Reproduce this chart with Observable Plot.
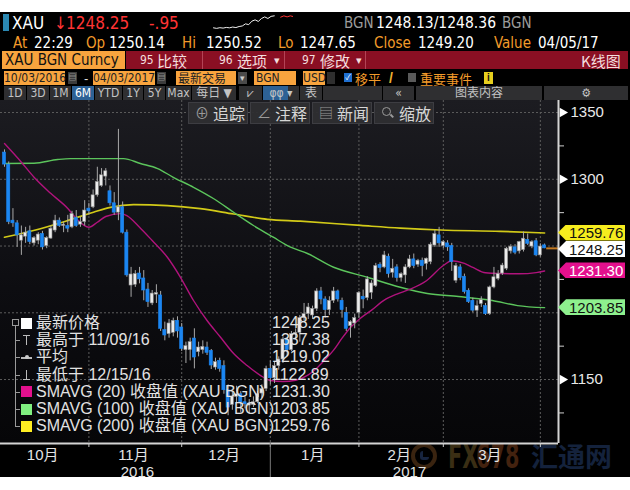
<!DOCTYPE html>
<html>
<head>
<meta charset="utf-8">
<script src="https://cdn.jsdelivr.net/npm/d3@7"></script>
<script src="https://cdn.jsdelivr.net/npm/@observablehq/plot@0.6"></script>
<style>
html,body{margin:0;padding:0;background:#fff;}
#root{position:relative;width:630px;height:490px;overflow:hidden;background:#fff;font-family:"Liberation Sans","Noto Sans CJK SC",sans-serif;}
.a{position:absolute;white-space:nowrap;box-sizing:border-box;}
.cd{font-family:"DejaVu Sans Condensed","DejaVu Sans","Noto Sans CJK SC",sans-serif;font-stretch:condensed;}
.cj{font-family:"Noto Sans CJK SC",sans-serif;}
</style>
</head>
<body>
<div id="root"></div>
<script>
// ---------------- DATA ----------------
// daily bars (weekdays 2016-10-03 .. 2017-04-03, excl. 12/26, 01/02)
const barOpen = [1320,1311,1269,1267,1254,1257,1261,1252,1254,1259,
1250,1255.6,1261.6,1269,1265,1265,1264,1271,1266,1268,
1278,1279,1288,1295,1302,1291,1282,1275,1279,1260,
1220.4,1221,1229.4,1225.7,1217.4,1207,1213.6,1213,1187,1184,
1185,1194,1189,1172,1172,1180.7,1170.5,1172,1174,1171.5,
1159,1164,1160,1142,1131,1137,1139,1133,1130.5,1131,
1133,1139.5,1143,1158,1151,1160,1165,1180,1172,1184,
1185,1196,1199,1198,1203,1216,1210,1202,1209,1216,
1209,1200,1190,1192,1200,1212,1211,1215,1220,1236,
1234,1242,1230,1234,1226,1228,1234,1240,1236,1239,
1236.6,1238,1250.4,1258,1250,1252,1250,1224,1234,1227,
1216.5,1209,1201.6,1206.6,1205,1199,1219,1225.4,1229.4,1233,
1246,1249,1246,1247,1254.6,1249.6,1253.6,1243,1250.5];
const barHigh = [1322,1313,1278,1269,1265,1264,1265,1257,1260,1261,
1257,1265,1273,1271,1268,1273,1276,1276.6,1271.6,1284,
1282,1292,1309,1308,1308,1295,1290,1337.38,1283,1262,
1234,1231.6,1234,1231.6,1222,1216.7,1221,1216,1193,1195,
1196,1197,1192,1178,1181,1188,1178,1179,1178,1172.5,
1166,1166,1164,1146,1141,1145,1141,1137,1135,1137,
1141,1146,1160,1164,1163,1167,1182,1181,1186,1188,
1198,1207,1207,1205,1218,1219,1212,1212,1219,1217,
1211,1204,1194,1199,1216,1217,1227,1224,1237,1237.5,
1246,1244,1240,1236,1230,1236,1243,1244,1240,1241,
1241,1252.5,1261.6,1264,1254,1254,1252,1237,1236,1229,
1218,1211,1209,1212,1207,1220,1234,1231.6,1237,1249,
1251,1251,1253.5,1260.5,1259,1254,1255.6,1251.7,1251.5];
const barLow = [1309,1266,1264,1249,1243,1252,1251,1250,1251,1247,
1248,1255,1260,1264,1260,1260,1263,1264,1264,1265,
1273,1278,1286.6,1294,1295,1280,1273,1269,1259,1226.6,
1211.6,1219,1221.7,1209,1204,1205.4,1207,1186,1179,1181,
1182,1181,1171,1162,1164,1158,1167,1169,1168,1157.5,
1157,1155.5,1139,1122.89,1127,1132,1125,1128,1124,1129,
1132,1136,1141,1146,1147,1157,1162,1167,1171,1180,
1178,1194,1195,1195,1201,1206,1196,1198,1207,1208,
1196,1186,1181,1188,1196,1203,1209,1210,1219,1230,
1233,1226,1226,1223,1223,1222,1233,1233,1234,1227,
1232,1236,1249,1249,1248,1246,1231,1222,1224,1214,
1207,1200,1196.5,1204,1198,1198,1218,1224,1228,1231.6,
1244,1243.5,1244,1245.5,1250.4,1248,1242,1241.7,1248];
const barClose = [1311,1268,1267,1258,1258,1260,1253,1256,1258.6,1249,
1256,1263,1269,1265,1266,1263,1274,1265,1268,1276.6,
1276,1288,1298,1303,1306,1282,1275,1279,1260,1228,
1228.7,1229,1225,1216.7,1208,1214.4,1214.8,1188,1183,1192,
1194,1186,1173,1175,1178,1166.5,1174,1174.5,1170,1160.5,
1163,1158,1142,1129,1137,1139,1133,1131.5,1132,1133,
1139,1143,1158,1151,1160,1165,1180,1172,1184,1185,
1196,1199,1204,1203,1216,1210,1202,1209,1216,1210,
1202,1188,1193,1196,1215,1210,1225,1222,1235,1233.5,
1243,1229,1233,1226,1229,1234,1240,1235,1239,1235,
1240.5,1251,1259,1252,1253,1249,1238,1235,1226,1215.5,
1208,1201.6,1205,1209.5,1199,1219,1226.6,1229,1235.4,1248,
1249.5,1245,1253,1255.5,1251.7,1253,1243,1249.6,1248.25];

// moving averages (bar index, value)
const ma20Idx = [0,4,7,11,15,17,20,22,24,27.5,29,32,35,38.6,41.7,44.8,48,51.2,54.3,57.5,60.7,63,66,69,72,74,76,78,80,82,84,87,90,93,96,100,104,106,109,111,114,118,122,126,128];
const ma20Val = [1326.8,1312.8,1301.5,1289.3,1278.1,1270.6,1264.1,1267.8,1272.1,1274.3,1272.8,1264.1,1254.1,1241.6,1226.6,1209.2,1194.2,1181.7,1169.5,1160.5,1153,1149.3,1148.5,1149.5,1153.5,1158.5,1165,1172,1181,1189,1195,1202,1209.5,1214,1217.5,1224,1235.4,1239,1237,1234,1230,1229.4,1229.2,1230.1,1231.3];
const ma100Idx = [0,7,12.6,15.6,28.2,32.2,36.3,40,44.8,49.5,54.3,59,63.7,67.8,71.8,78,86,93.8,100.2,107.6,115.6,121.6,128];
const ma100Val = [1311.8,1312,1314.8,1315.5,1315.5,1311.8,1308,1301.5,1294,1285.6,1275.3,1265.4,1256.6,1249.1,1244.4,1234.1,1226.6,1219.1,1214.4,1212.2,1209.2,1205.4,1203.85];
const ma200Idx = [0,6.9,14.9,21.1,25.1,30.6,38.6,46.4,54.3,62.3,70.1,84.4,93.8,103.3,117.5,128];
const ma200Val = [1256.6,1261.6,1269,1275.3,1279,1281,1280.3,1278,1274,1270,1268.6,1265.4,1263.4,1262,1261,1259.76];

const monthLabels = ["10月","11月","12月","1月","2月","3月"];
const monthFirst = [0,21,43,64,85,105];
const monthLast = [20,42,63,84,104,127];
const yearLabels = ["2016","2017"];
const yearFirst = [0,64];
const yearLast = [63,128];

const majorTicks = [1150,1300,1350];
const minorTicks = [1125,1175,1225,1275,1325];
const gridLevels = [1150,1200,1250,1300,1350];
const lastPrice = 1248.25;

const tagValues = [1259.76,1248.25,1231.30,1203.85];
const tagLabels = ["1259.76","1248.25","1231.30","1203.85"];
const tagFill = ["#f6ec1e","#ffffff","#e3108d","#8ef08e"];
const tagInk = ["#111","#111","#fff","#111"];

const legendLabels = ["最新价格","最高于 11/09/16","平均","最低于 12/15/16","SMAVG (20) 收盘值 (XAU BGN)","SMAVG (100) 收盘值 (XAU BGN)","SMAVG (200) 收盘值 (XAU BGN)"];
const legendValues = ["1248.25","1337.38","1219.02","1122.89","1231.30","1203.85","1259.76"];
const legendIcons = ["sq","hi","avg","lo","sq","sq","sq"];
const legendColors = ["#ffffff",null,null,null,"#e3108d","#80f080","#ffee22"];

const sparkWhite = [2,1.6,2.1,1.8,2.3,2,2.6,2.2,3,3.4,5,4.4,7,8,6.8,9,10.2,9,10.6,11];
const sparkRed = [10,11,10.2,11,10.4];

// ---------------- HELPERS ----------------
const root = document.getElementById("root");
function box(x,y,w,h,bg,extra){const d=document.createElement("div");d.className="a";Object.assign(d.style,{left:x+"px",top:y+"px",width:w+"px",height:h+"px",background:bg},extra||{});root.appendChild(d);return d;}
function label(x,yc,text,o){o=o||{};const d=document.createElement("div");d.className="a "+(o.cls||"");const size=o.size||14;const h=o.h||Math.round(size+6);
 Object.assign(d.style,{left:x+"px",top:(yc-h/2)+"px",height:h+"px",lineHeight:h+"px",fontSize:size+"px",color:o.color||"#ddd"});
 if(o.weight)d.style.fontWeight=o.weight; if(o.w){d.style.width=o.w+"px";d.style.textAlign=o.align||"center";}
 if(o.ls)d.style.letterSpacing=o.ls+"px";
 if(o.sx){d.style.transform="scaleX("+o.sx+")";d.style.transformOrigin="left center";}
 d.textContent=text;root.appendChild(d);return d;}

// ---------------- FRAME ----------------
box(0,12,630,465,"#000");
box(0,100,558,343,"linear-gradient(#1c1c21,#0d0d11 55%,#060608)");

// Row 1
box(3,14,6,17,"#2b88b2");
label(12,23,"XAU",{size:17,color:"#fff",cls:"cd"});
label(54,23,"↓",{size:17,color:"#ff3434",cls:"cd"});
label(66,23,"1248.25",{size:17,color:"#ff3434",cls:"cd"});
label(149,23,"-.95",{size:17,color:"#ff3434",cls:"cd"});
label(344,23,"BGN",{size:15,color:"#9c9c9c",cls:"cd"});
label(376,23,"1248.13/1248.36",{size:15.5,color:"#fff",cls:"cd"});
label(502,23,"BGN",{size:15,color:"#9c9c9c",cls:"cd"});
// Row 2
const OR="#f39b2a";
[[13,"At",OR],[34,"22:29","#fff"],[86,"Op",OR],[109,"1250.14","#fff"],[182,"Hi",OR],[206,"1250.52","#fff"],
 [278,"Lo",OR],[300,"1247.65","#fff"],[374,"Close",OR],[418,"1249.20","#fff"],[494,"Value",OR],[538,"04/05/17","#fff"]]
 .forEach(([x,t,c])=>label(x,43,t,{size:15,color:c,cls:"cd"}));
// Row 3
box(2,51,123,18,"#f8a43e");
label(5,60,"XAU BGN Curncy",{size:15,color:"#111",cls:"cd"});
box(126,51,502,18,"#8a0f23");
[202,284,365].forEach(x=>box(x,51,1,18,"#b34456"));
label(140,60,"95",{size:12,color:"#f3dede",cls:"cd"});label(157,60,"比较",{size:15,color:"#f3dede",cls:"cj"});
label(219,60,"96",{size:12,color:"#f3dede",cls:"cd"});label(237,60,"选项",{size:15,color:"#f3dede",cls:"cj"});label(274,60,"▾",{size:11,color:"#f3dede"});
label(302,60,"97",{size:12,color:"#f3dede",cls:"cd"});label(320,60,"修改",{size:15,color:"#f3dede",cls:"cj"});label(356,60,"▾",{size:11,color:"#f3dede"});
label(581,60,"K线图",{size:15,color:"#f3dede",cls:"cj"});
// Row 4
const OB="#f8a43e";
box(4,71,61,14,OB);label(4,78,"10/03/2016",{size:12,color:"#222",cls:"cd",w:61});
box(68,72,9,12,"#3c3c3c");label(68,78,"▤",{size:8,color:"#ccc",w:9});
label(84,78,"-",{size:13,color:"#ddd"});
box(93,71,62,14,OB);label(93,78,"04/03/2017",{size:12,color:"#222",cls:"cd",w:62});
box(157,72,9,12,"#3c3c3c");label(157,78,"▤",{size:8,color:"#ccc",w:9});
box(176,71,60,14,OB);label(178,78,"最新交易",{size:12,color:"#222",cls:"cj"});
box(238,72,9,12,"#4a4a4a");label(238,78,"▾",{size:9,color:"#ccc",w:9});
box(254,71,42,14,OB);label(256,78,"BGN",{size:12,color:"#222",cls:"cd"});
box(303,71,22,14,OB);label(303,78,"USD",{size:12,color:"#222",cls:"cd",w:22});
box(327,72,8,12,"#2e2e2e");
box(344,73,8,9,"#1f6fd0");label(344,77.5,"✓",{size:8,color:"#fff",w:8});
label(355,78,"移平",{size:13,color:OR,cls:"cj"});
label(389,78,"/",{size:14,color:"#f0b030",weight:"bold"});
box(408,73,8,9,"#5a5a5a");
label(420,78,"重要事件",{size:13,color:OR,cls:"cj"});
box(484,72,9,12,"#e6cf1e");label(484,78,"i",{size:10,color:"#111",w:9,weight:"bold"});
// Row 5 buttons
const btns=[["1D",4,22],["3D",27,22],["1M",50,21],["6M",72,22,1],["YTD",95,27],["1Y",123,20],["5Y",144,21],["Max",166,25],["每日 ▼",192,44],["⩗",239,23],["φφ ▾",263,36,2],["表",300,22],["",323,59],["«",383,31],["图表内容",416,126],["⚙",544,84]];
btns.forEach(([t,x,w,h])=>{box(x,86,w,14,h===1?"#2d6195":"#2f2f31");if(h===2)box(x,86,25,14,"#2d6195");label(x,93,t,{size:12,color:h===1?"#fff":"#c4c4c4",cls:"cd",w:w});});

// faint watermark (under the chart)
box(411,443,26,26,"transparent",{border:"4px solid #3a2410",borderRadius:"50%"});
box(420,451,9,9,"transparent",{borderLeft:"3px solid #17243e",borderBottom:"3px solid #17243e",borderRadius:"3px"});
label(448,456,"FX",{size:34,color:"#3a2e14",weight:"bold",cls:"cd",sx:0.68,h:40});
label(476,456,"678",{size:34,color:"#43220f",weight:"bold",cls:"cd",sx:0.68,h:40});
label(531,456,"汇通网",{size:27,color:"#14223c",weight:"bold",cls:"cj",h:36});

// ---------------- CHART ----------------
const svgTop=100, W=630, H=377;
const xMin=-0.95, xMax=131.3, yMin=1102.1, yMax=1359;
const bars = barOpen.map((o,k)=>({i:k,open:o,high:barHigh[k],low:barLow[k],close:barClose[k]}));
const pts = (ix,vals)=>ix.map((i,k)=>({i,v:vals[k]}));
const lastIdx = bars.length-1;

const chart = Plot.plot({
  width:W,height:H,marginLeft:0,marginRight:72,marginTop:0,marginBottom:34,
  style:{background:"transparent",color:"#e4e4e4",fontFamily:"Liberation Sans, Noto Sans CJK SC, sans-serif",fontSize:"15px",overflow:"visible"},
  x:{domain:[xMin,xMax],axis:null,label:null},
  y:{domain:[yMin,yMax],axis:null,label:null},
  marks:[
    Plot.ruleY(gridLevels,{stroke:"#5c5c5c",strokeDasharray:"2,2"}),
    Plot.ruleX(monthLast,{stroke:"#5c5c5c",strokeDasharray:"2,2"}),
    Plot.line(pts(ma200Idx,ma200Val),{x:"i",y:"v",stroke:"#d2ca18",strokeWidth:1.7,curve:"monotone-x"}),
    Plot.line(pts(ma100Idx,ma100Val),{x:"i",y:"v",stroke:"#5cc55c",strokeWidth:1.4,curve:"monotone-x"}),
    Plot.line(pts(ma20Idx,ma20Val),{x:"i",y:"v",stroke:"#b0137c",strokeWidth:1.4,curve:"monotone-x"}),
    Plot.ruleX(bars,{x:"i",y1:"low",y2:"high",stroke:"#a8a8a8",strokeWidth:1}),
    Plot.rect(bars,{x1:d=>d.i-0.37,x2:d=>d.i+0.37,y1:"open",y2:"close",
      fill:d=>d.close>=d.open?"#ececec":"#1b86f2",stroke:d=>d.close>=d.open?"#8c8c8c":"#1b86f2",strokeWidth:0.6}),
    Plot.ruleY([lastPrice],{x1:lastIdx+0.5,x2:xMax,stroke:"#c47a22",strokeWidth:2}),
    Plot.ruleX([xMax],{stroke:"#d4d4d4",strokeWidth:2}),
    Plot.ruleY([yMin],{stroke:"#d4d4d4",strokeWidth:2}),
    Plot.axisY({anchor:"right",ticks:minorTicks,tickSize:5,tickFormat:()=>"",stroke:"#cfcfcf",label:null}),
    Plot.axisY({anchor:"right",ticks:majorTicks,tickSize:0,tickPadding:12,fontSize:15,fill:"#e8e8e8",tickFormat:d=>String(d),label:null}),
    Plot.dot(majorTicks,{x:()=>xMax,y:d=>d,symbol:"triangle",r:3.6,rotate:90,fill:"#fff",dx:4}),
    Plot.axisX({ticks:monthLast,tickSize:4,tickFormat:()=>"",stroke:"#cfcfcf",label:null}),
    Plot.axisX({ticks:[yearLast[0]],tickSize:34,tickFormat:()=>"",stroke:"#7a7a7a",label:null}),
    Plot.text(monthLabels,{x:(d,k)=>(monthFirst[k]+monthLast[k])/2,y:()=>yMin,dy:12,dx:-4,fill:"#e4e4e4",fontSize:15}),
    Plot.text(yearLabels,{x:(d,k)=>(yearFirst[k]+yearLast[k])/2,y:()=>yMin,dy:29,fill:"#e4e4e4",fontSize:15})
  ]
});
chart.style.position="absolute";chart.style.left="0px";chart.style.top=svgTop+"px";
root.appendChild(chart);
const ys = chart.scale("y");

// chart overlay buttons
[[188,"⊕","追踪"],[250,"∠","注释"],[312,"▤","新闻"],[374,"","缩放"]].forEach(([x,ic,t])=>{
  box(x,102,60,22,"rgba(46,46,50,0.95)",{border:"1px solid #3d3d42"});
  if(ic)label(x+7,113,ic,{size:14,color:"#9a9a9a"});
  else{box(x+8,107,9,9,"transparent",{border:"1.5px solid #9a9a9a",borderRadius:"50%"});box(x+16,115,4,1.5,"#9a9a9a",{transform:"rotate(45deg)"});}
  label(x+25,113,t,{size:16,color:"#d6d6d6",cls:"cj"});
});

// value tags on right axis
let prevBottom=-1e9;
tagValues.forEach((v,k)=>{
  const h=16;let c=svgTop+ys.apply(v);
  if(c-h/2<prevBottom)c=prevBottom+h/2+0.5;
  prevBottom=c+h/2;
  box(558,c-h/2,67,h,tagFill[k],{clipPath:"polygon(0 50%,8px 0,100% 0,100% 100%,8px 100%)"});
  label(569,c,tagLabels[k],{size:15,color:tagInk[k]});
});

// legend overlay
const lx=15, ly0=323, lstep=17.2;
box(12,319,7,7,"transparent",{border:"1px solid #9a9a9a"});
box(lx,326,1,ly0+6*lstep-326,"#9a9a9a");
legendLabels.forEach((t,k)=>{
  const y=ly0+k*lstep;
  if(k>0)box(lx,y,5,1,"#9a9a9a");
  const ic=legendIcons[k];
  if(ic==="sq")box(21,y-5.5,11,11,legendColors[k]);
  else if(ic==="hi"){box(23,y-5,7,1.3,"#bbb");box(26,y-5,1.3,10,"#bbb");}
  else if(ic==="lo"){box(23,y+4,7,1.3,"#bbb");box(26,y-5,1.3,10,"#bbb");}
  else {box(21,y,11,1.3,"#bbb");box(24.5,y-2,4,4,"#ccc",{borderRadius:"50%"});}
  label(36,y,t,{size:16,color:"#e2e2e2",h:18});
  label(272,y,legendValues[k],{size:16,color:"#e2e2e2",h:18});
});

// header sparkline
const spark = Plot.plot({width:80,height:16,margin:0,style:{background:"transparent"},
  x:{domain:[0,25],axis:null},y:{domain:[0,12],axis:null},
  marks:[Plot.line(sparkWhite.map((v,k)=>({k,v})),{x:"k",y:"v",stroke:"#f0f0f0",strokeWidth:1}),
         Plot.line(sparkRed.map((v,k)=>({k:k+21,v})),{x:"k",y:"v",stroke:"#ff3434",strokeWidth:1})]});
spark.style.position="absolute";spark.style.left="213px";spark.style.top="14px";
root.appendChild(spark);
</script>
</body>
</html>
